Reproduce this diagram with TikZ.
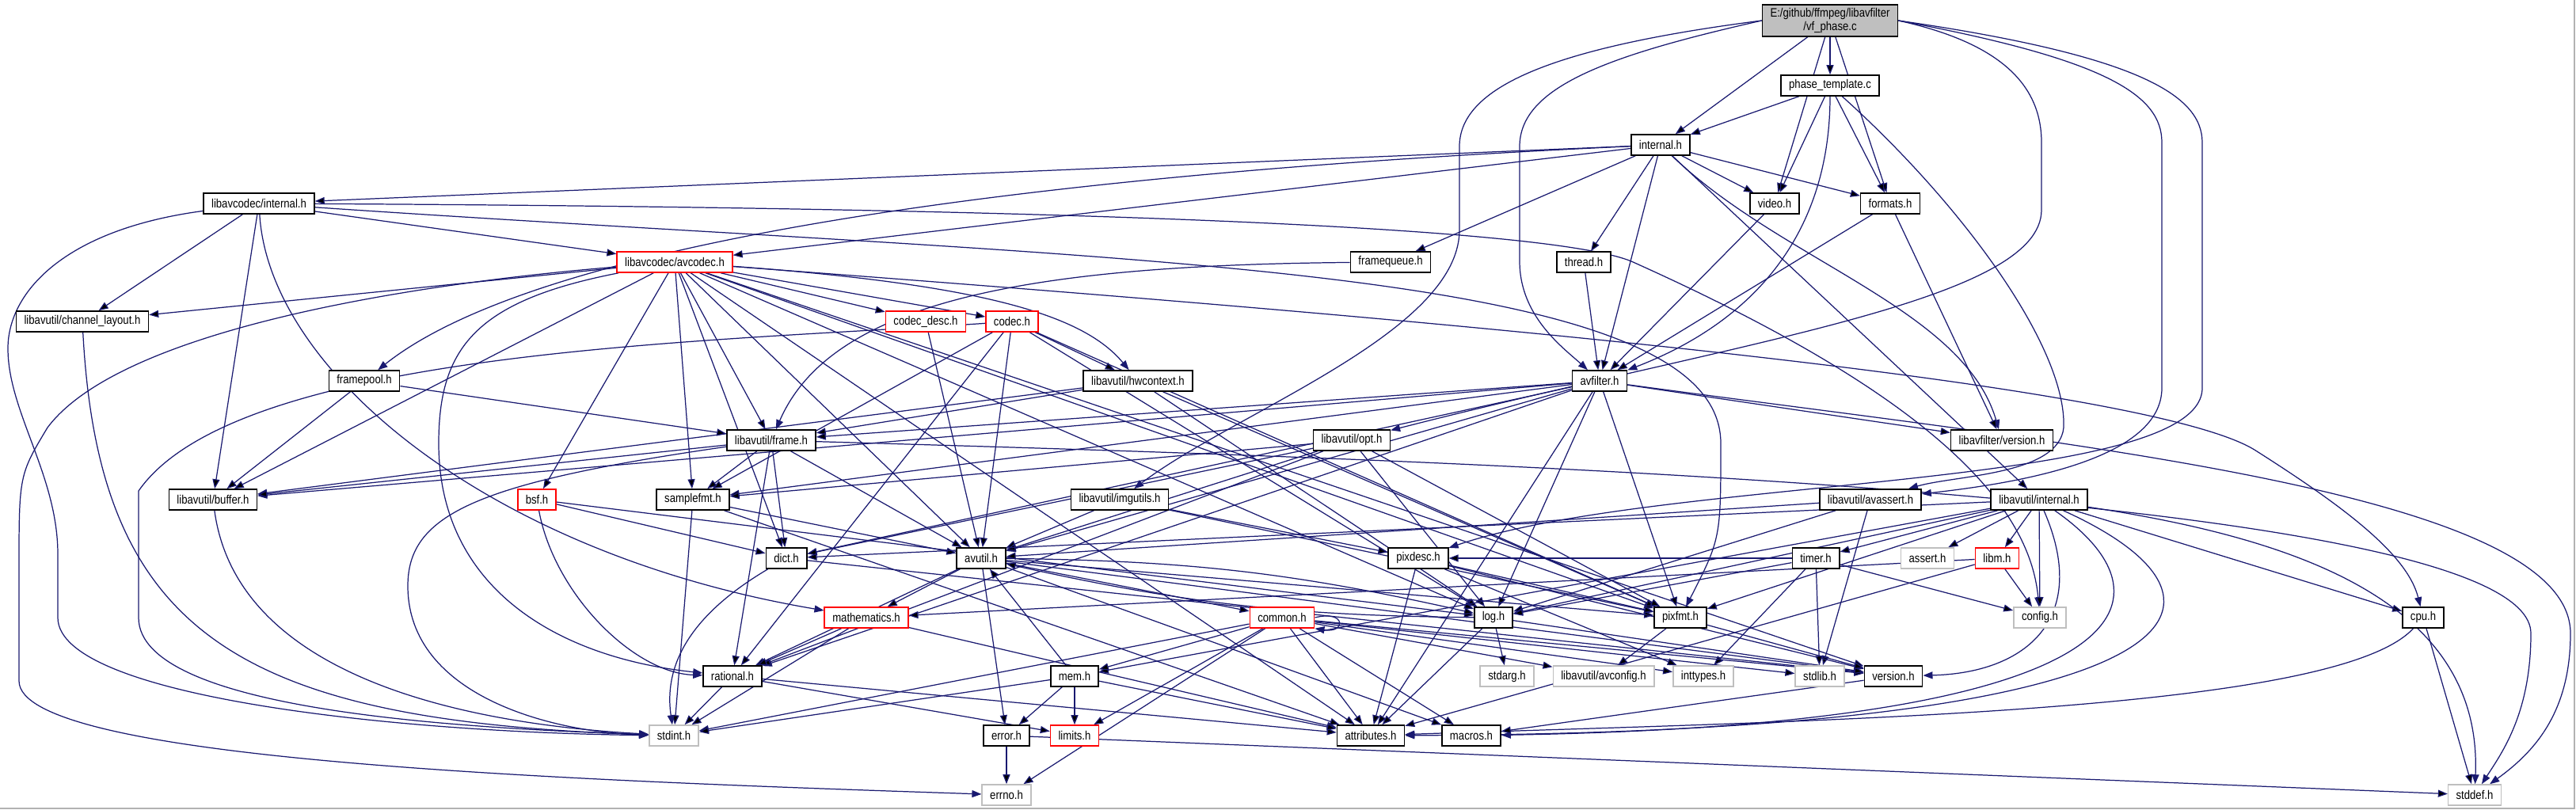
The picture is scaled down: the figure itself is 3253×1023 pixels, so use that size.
\documentclass[tikz,border=0pt]{standalone}
\usepackage{fontspec}
\setmainfont{Liberation Sans}[FakeStretch=0.85]
\usetikzlibrary{arrows.meta,backgrounds}
\definecolor{depblue}{HTML}{191970}
\definecolor{sysgray}{HTML}{BFBFBF}
\definecolor{rootgray}{HTML}{BFBFBF}
\tikzset{
  hdr/.style={draw=black, fill=white, line width=0.9pt, inner xsep=0.2cm, inner ysep=0pt,
    minimum height=0.52cm, font=\fontsize{8.8}{8}\selectfont},
  redhdr/.style={hdr, draw=red},
  syshdr/.style={hdr, draw=sysgray},
  roothdr/.style={hdr, fill=rootgray, align=center, minimum height=0.8cm},
  dep/.style={draw=depblue, line width=0.7pt, -{Triangle[length=0.24cm,width=0.18cm]}}
}
\begin{document}
\begin{tikzpicture}[x=0.02cm, y=-0.02cm]
	\useasboundingbox (0,0) rectangle (3253,1023);
	% headers, row by row
	\node[roothdr] (vfphase) at (2311,26) {E:/github/ffmpeg/libavfilter\\/vf\_phase.c};
	\node[hdr] (phasetpl) at (2311,108) {phase\_template.c};
	\node[hdr] (fltinternal) at (2097,183) {internal.h};
	\node[hdr] (codecinternal) at (327,257) {libavcodec/internal.h};
	\node[hdr] (video) at (2241,257) {video.h};
	\node[hdr] (formats) at (2387,257) {formats.h};
	\node[redhdr] (avcodec) at (852,331) {libavcodec/avcodec.h};
	\node[hdr] (framequeue) at (1756,331) {framequeue.h};
	\node[hdr] (thread) at (2000,331) {thread.h};
	\node[hdr] (chlayout) at (104,406) {libavutil/channel\_layout.h};
	\node[redhdr] (codecdesc) at (1169,406) {codec\_desc.h};
	\node[redhdr] (codec) at (1278,406) {codec.h};
	\node[hdr] (framepool) at (460,481) {framepool.h};
	\node[hdr] (hwcontext) at (1437,481) {libavutil/hwcontext.h};
	\node[hdr] (avfilter) at (2020,481) {avfilter.h};
	\node[hdr] (frame) at (974,556) {libavutil/frame.h};
	\node[hdr] (opt) at (1707,556) {libavutil/opt.h};
	\node[hdr] (fltversion) at (2528,556) {libavfilter/version.h};
	\node[hdr] (buffer) at (269,631) {libavutil/buffer.h};
	\node[redhdr] (bsf) at (678,631) {bsf.h};
	\node[hdr] (samplefmt) at (875,631) {samplefmt.h};
	\node[hdr] (imgutils) at (1414,631) {libavutil/imgutils.h};
	\node[hdr] (avassert) at (2362,631) {libavutil/avassert.h};
	\node[hdr] (utilinternal) at (2575,631) {libavutil/internal.h};
	\node[hdr] (dict) at (993,705) {dict.h};
	\node[hdr] (avutil) at (1239,705) {avutil.h};
	\node[hdr] (pixdesc) at (1791,705) {pixdesc.h};
	\node[hdr] (timer) at (2293,705) {timer.h};
	\node[syshdr] (asserth) at (2434,705) {assert.h};
	\node[redhdr] (libm) at (2522,705) {libm.h};
	\node[redhdr] (mathematics) at (1094,780) {mathematics.h};
	\node[redhdr] (common) at (1619,780) {common.h};
	\node[hdr] (logh) at (1886,780) {log.h};
	\node[hdr] (pixfmt) at (2122,780) {pixfmt.h};
	\node[syshdr] (config) at (2576,780) {config.h};
	\node[hdr] (cpu) at (3060,780) {cpu.h};
	\node[hdr] (rational) at (925,854) {rational.h};
	\node[hdr] (mem) at (1357,854) {mem.h};
	\node[syshdr] (stdarg) at (1903,854) {stdarg.h};
	\node[syshdr] (avconfig) at (2025,854) {libavutil/avconfig.h};
	\node[syshdr] (inttypes) at (2151,854) {inttypes.h};
	\node[syshdr] (stdlib) at (2298,854) {stdlib.h};
	\node[hdr] (version) at (2391,854) {version.h};
	\node[syshdr] (stdint) at (851,929) {stdint.h};
	\node[hdr] (error) at (1271,929) {error.h};
	\node[redhdr] (limits) at (1357,929) {limits.h};
	\node[hdr] (attributes) at (1731,929) {attributes.h};
	\node[hdr] (macros) at (1858,929) {macros.h};
	\node[syshdr] (errno) at (1271,1004) {errno.h};
	\node[syshdr] (stddef) at (3125,1004) {stddef.h};
	\begin{pgfonlayer}{background}
	\fill[white] (0,0) rectangle (3253,1023);
	\draw[sysgray!80!gray, line width=0.04cm] (0,1021) -- (3251,1021) -- (3251,0);
	% vf_phase.c
	\path[dep] (vfphase) edge (fltinternal) edge (video) edge (phasetpl) edge (formats);
	\draw[dep] (vfphase.west) .. controls (2030,70) and (1919,110) .. (1919,185) -- (1919,330) .. controls (1919,400) and (1975,440) .. (avfilter);
	\draw[dep] (vfphase.west) .. controls (1960,60) and (1843,110) .. (1843,185) -- (1843,290) .. controls (1843,420) and (1560,520) .. (imgutils);
	\draw[dep] (vfphase.east) .. controls (2530,55) and (2578,110) .. (2578,180) -- (2578,265) .. controls (2578,380) and (2200,430) .. (opt);
	\draw[dep] (vfphase.east) .. controls (2660,75) and (2730,120) .. (2730,180) -- (2730,490) .. controls (2730,580) and (2550,610) .. (avassert);
	\draw[dep] (vfphase.east) .. controls (2700,70) and (2781,120) .. (2781,180) -- (2781,490) .. controls (2781,620) and (2100,600) .. (pixdesc);
	% phase_template.c
	\path[dep] (phasetpl) edge (fltinternal) edge (video) edge (formats);
	\draw[dep] (phasetpl) .. controls (2311,280) and (2230,400) .. (avfilter);
	\draw[dep] (phasetpl) .. controls (2480,260) and (2610,440) .. (2606,540) .. controls (2600,600) and (2470,600) .. (avassert);
	% internal.h
	\path[dep] (fltinternal) edge (codecinternal) edge (avcodec) edge (framequeue) edge (thread) edge (avfilter) edge (video) edge (formats) edge (utilinternal);
	\draw[dep] (fltinternal) .. controls (1400,215) and (700,290) .. (framepool);
	\draw[dep] (fltinternal) .. controls (2250,330) and (2480,390) .. (fltversion);
	% libavcodec/internal.h
	\path[dep] (codecinternal) edge (chlayout) edge (buffer) edge (avcodec);
	\draw[dep] (codecinternal) .. controls (80,290) and (10,370) .. (10,440) .. controls (10,520) and (73,600) .. (73,700) -- (73,780) .. controls (73,880) and (500,925) .. (stdint);
	\draw[dep] (codecinternal) .. controls (340,470) and (620,700) .. (mathematics);
	\draw[dep] (codecinternal) .. controls (1300,262) and (1950,285) .. (2060,330) .. controls (2350,460) and (2560,600) .. (config);
	\draw[dep] (codecinternal) .. controls (1400,330) and (2173,330) .. (2173,560) .. controls (2173,680) .. (pixfmt);
	% libavcodec/avcodec.h
	\path[dep] (avcodec) edge (chlayout) edge (buffer) edge (codecdesc) edge (codec) edge (bsf) edge (samplefmt) edge (frame) edge (dict) edge (avutil) edge (logh) edge (pixfmt) edge (attributes) edge (version);
	\draw[dep] (avcodec) .. controls (500,360) and (150,420) .. (60,540) .. controls (24,600) .. (24,720) -- (24,860) .. controls (24,960) and (700,985) .. (errno);
	\draw[dep] (avcodec) .. controls (600,380) and (554,440) .. (554,560) .. controls (554,740) and (700,830) .. (rational);
	\draw[dep] (avcodec) .. controls (1250,360) and (1370,400) .. (hwcontext);
	\draw[dep] (avcodec) .. controls (1500,380) and (2700,470) .. (2850,570) .. controls (2960,640) and (3040,700) .. (cpu);
	% codec.h, codec_desc.h, hwcontext.h, bsf.h
	\path[dep] (codec) edge (hwcontext) edge (avutil) edge (logh) edge (pixfmt) edge (samplefmt) edge (rational);
	\draw[dep] (codec) .. controls (900,432) and (300,440) .. (175,620) -- (175,780) .. controls (175,900) and (600,920) .. (stdint);
	\path[dep] (codecdesc) edge (avutil);
	\path[dep] (hwcontext) edge (buffer) edge (frame) edge (logh) edge (pixfmt);
	\path[dep] (bsf) edge (dict) edge (logh);
	\draw[dep] (bsf) .. controls (700,750) and (800,850) .. (rational);
	% framepool.h, framequeue.h, thread.h, video.h, formats.h
	\path[dep] (framepool) edge (buffer) edge (frame);
	\draw[dep] (framequeue) .. controls (1300,335) and (1050,380) .. (frame);
	\path[dep] (thread) edge (avfilter);
	\path[dep] (video) edge (avfilter);
	\path[dep] (formats) edge (avfilter) edge (fltversion);
	% avfilter.h
	\path[dep] (avfilter) edge (attributes) edge (avutil) edge (buffer) edge (dict) edge (frame) edge (logh) edge (samplefmt) edge (pixfmt) edge (rational) edge (fltversion);
	\draw[dep] (avfilter) .. controls (2600,560) and (3246,620) .. (3246,800) .. controls (3246,900) and (3200,950) .. (stddef);
	% libavutil/frame.h, samplefmt.h, imgutils.h, opt.h, avassert.h
	\path[dep] (frame) edge (avutil) edge (buffer) edge (dict) edge (rational) edge (samplefmt);
	\draw[dep] (frame) .. controls (1800,580) and (3196,620) .. (3196,800) .. controls (3196,900) and (3160,950) .. (stddef);
	\draw[dep] (frame) .. controls (600,610) and (515,650) .. (515,740) .. controls (515,880) and (700,925) .. (stdint);
	\path[dep] (samplefmt) edge (avutil) edge (attributes) edge (stdint);
	\path[dep] (imgutils) edge (avutil) edge (pixdesc) edge (pixfmt);
	\path[dep] (opt) edge (rational) edge (avutil) edge (dict) edge (logh) edge (pixfmt) edge (samplefmt);
	\path[dep] (avassert) edge (avutil) edge (logh) edge (stdlib);
	% libavutil/internal.h
	\path[dep] (utilinternal) edge (asserth) edge (libm) edge (config) edge (timer) edge (cpu) edge (pixfmt) edge (dict) edge (mem) edge (logh);
	\draw[dep] (utilinternal) .. controls (2900,680) and (3135,760) .. (stddef);
	\draw[dep] (utilinternal) .. controls (2640,780) and (2560,850) .. (version);
	\draw[dep] (utilinternal) .. controls (2760,760) and (2700,915) .. (macros);
	\draw[dep] (utilinternal) .. controls (2860,760) and (2800,925) .. (attributes);
	% lower rows
	\path[dep] (dict) edge (version);
	\draw[dep] (dict) .. controls (900,760) and (835,820) .. (stdint);
	\path[dep] (avutil) edge (common) edge (error) edge (macros) edge (mathematics) edge (rational) edge[bend left=6] (logh) edge (pixfmt) edge (version);
	\path[dep] (pixdesc) edge (inttypes) edge (attributes) edge (pixfmt) edge (version);
	\path[dep] (timer) edge (config) edge (inttypes) edge (stdlib) edge (logh) edge (pixdesc);
	\path[dep] (libm) edge (config) edge (attributes) edge (mathematics);
	\path[dep] (mathematics) edge (rational) edge (attributes) edge (stdint);
	\path[dep] (common) edge (errno) edge (inttypes) edge (limits) edge (stdint) edge (stdlib) edge (attributes) edge (macros) edge (mem) edge (version) edge (avconfig);
	\draw[dep] (common.east) .. controls (1700,770) and (1700,800) .. (common.south east);
	\path[dep] (logh) edge (stdarg) edge (attributes) edge[bend left=6] (avutil) edge (version);
	\path[dep] (pixfmt) edge (avconfig) edge (version);
	\path[dep] (cpu) edge (stddef);
	\draw[dep] (cpu) .. controls (2950,900) and (2300,910) .. (attributes);
	\path[dep] (rational) edge (stdint) edge (limits) edge (attributes);
	\path[dep] (mem) edge (attributes) edge (error) edge (avutil) edge (limits) edge (stdint);
	\path[dep] (version) edge (macros);
	\path[dep] (error) edge (errno) edge (stddef);
	\draw[dep] (chlayout) .. controls (125,800) and (300,910) .. (stdint);
	\draw[dep] (buffer) .. controls (300,860) and (600,915) .. (stdint);
	\end{pgfonlayer}
\end{tikzpicture}
\end{document}
